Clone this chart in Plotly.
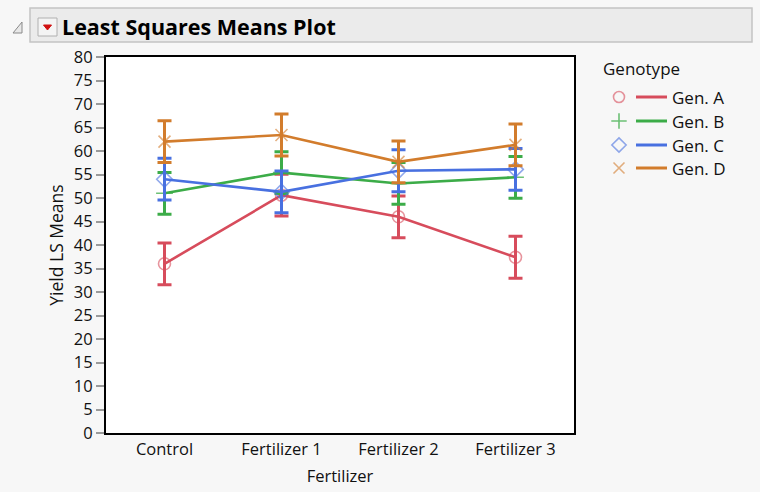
import plotly.graph_objects as go

categories = ["Control", "Fertilizer 1", "Fertilizer 2", "Fertilizer 3"]
genotypes = ["Gen. A", "Gen. B", "Gen. C", "Gen. D"]
gen_a = [36.0, 50.6, 46.0, 37.4]
gen_b = [51.0, 55.4, 53.1, 54.4]
gen_c = [54.0, 51.3, 55.8, 56.1]
gen_d = [62.0, 63.4, 57.7, 61.3]
ci_half = [4.45, 4.45, 4.45, 4.45]
y_ticks = list(range(0, 81, 5))

series = [gen_a, gen_b, gen_c, gen_d]
line_colors = ["rgb(215,76,92)", "rgb(60,172,72)", "rgb(72,112,224)", "rgb(210,124,44)"]
marker_colors = ["rgba(215,76,92,0.6)", "rgba(60,172,72,0.75)", "rgba(72,112,224,0.6)", "rgba(210,124,44,0.6)"]
symbols = ["circle-open", "cross-thin-open", "diamond-open", "x-thin-open"]

W, H = 760, 492
PL, PR, PT, PB = 106, 574, 57, 433
FONT = "Open Sans"
BG = "#f7f7f7"

fig = go.Figure()

for name, vals, lc, mc, sym in zip(genotypes, series, line_colors, marker_colors, symbols):
    fig.add_trace(go.Scatter(
        x=categories, y=vals, name=name, mode="lines+markers",
        line=dict(color=lc, width=2.6),
        marker=dict(symbol=sym, size=12, color=mc, line=dict(color=mc, width=1.6)),
        error_y=dict(type="data", array=ci_half, color=lc, thickness=3, width=7),
        showlegend=False, xaxis="x", yaxis="y",
    ))

# legend drawn on an overlay axis measured in page pixels
leg_y = [97, 121, 145, 168]
for i, (name, lc, mc, sym) in enumerate(zip(genotypes, line_colors, marker_colors, symbols)):
    fig.add_trace(go.Scatter(
        x=[619], y=[leg_y[i]], mode="markers",
        marker=dict(symbol=sym, size=11, color=mc, line=dict(color=mc, width=1.6)),
        showlegend=False, xaxis="x2", yaxis="y2", hoverinfo="skip"))
    fig.add_trace(go.Scatter(
        x=[636, 667], y=[leg_y[i], leg_y[i]], mode="lines",
        line=dict(color=lc, width=3),
        showlegend=False, xaxis="x2", yaxis="y2", hoverinfo="skip"))
    fig.add_annotation(x=670, y=leg_y[i], xref="x2", yref="y2", text=name,
                       showarrow=False, xanchor="left", yanchor="middle",
                       font=dict(family=FONT, size=17, color="#111"))

fig.add_annotation(x=601, y=68, xref="x2", yref="y2", text="Genotype",
                   showarrow=False, xanchor="left", yanchor="middle",
                   font=dict(family=FONT, size=17, color="#111"))

# header bar
fig.add_shape(type="rect", xref="x2", yref="y2", x0=30, x1=752, y0=8, y1=42,
              fillcolor="#ebebeb", line=dict(color="#c4c4c4", width=1.5), layer="below")
fig.add_shape(type="path", xref="x2", yref="y2",
              path="M 22 22 L 22 33 L 13 33 Z", fillcolor="#e8e8e8",
              line=dict(color="#8a8a8a", width=1))
fig.add_shape(type="rect", xref="x2", yref="y2", x0=38, x1=57, y0=18, y1=36,
              fillcolor="#f4f4f4", line=dict(color="#b0b0b0", width=1))
fig.add_shape(type="path", xref="x2", yref="y2",
              path="M 43.5 25 L 51.5 25 L 47.5 30 Z", fillcolor="#d01010",
              line=dict(color="#d01010", width=1))
fig.add_annotation(x=60, y=26, xref="x2", yref="y2", text="<b>Least Squares Means Plot</b>",
                   showarrow=False, xanchor="left", yanchor="middle",
                   font=dict(family=FONT, size=21.5, color="#000"))

# white plot panel
fig.add_shape(type="rect", xref="x domain", yref="y domain", x0=0, x1=1, y0=0, y1=1,
              fillcolor="white", line=dict(width=0), layer="below")

fig.update_layout(
    width=W, height=H,
    margin=dict(l=0, r=0, t=0, b=0, pad=0, autoexpand=False),
    paper_bgcolor=BG, plot_bgcolor="rgba(0,0,0,0)",
    font=dict(family=FONT, size=16, color="#111"),
    xaxis=dict(
        domain=[PL / W, PR / W], range=[-0.5, 3.5], type="category",
        showline=True, linecolor="black", linewidth=2, mirror=True,
        showgrid=False, zeroline=False, ticks="", automargin=False,
        tickfont=dict(family=FONT, size=16.5, color="#111"),
        title=dict(text="Fertilizer", font=dict(family=FONT, size=16.5), standoff=12),
    ),
    yaxis=dict(
        domain=[1 - PB / H, 1 - PT / H], range=[0, 80],
        tickvals=y_ticks, ticktext=[str(v) for v in y_ticks],
        showline=True, linecolor="black", linewidth=2, mirror=True,
        showgrid=False, zeroline=False, ticks="outside", ticklen=8,
        tickcolor="#9a9a9a", tickwidth=1.5, automargin=False,
        tickfont=dict(family=FONT, size=16.5, color="#111"),
        title=dict(text="Yield LS Means", font=dict(family=FONT, size=17.5), standoff=6),
    ),
    xaxis2=dict(domain=[0, 1], range=[0, W], visible=False, fixedrange=True,
                anchor="y2", automargin=False),
    yaxis2=dict(domain=[0, 1], range=[H, 0], visible=False, fixedrange=True,
                anchor="x2", automargin=False),
)

fig.write_html(
    "out.html",
    config={"displayModeBar": False},
    post_script="document.body.style.margin='0';document.body.style.background='%s';" % BG,
)
